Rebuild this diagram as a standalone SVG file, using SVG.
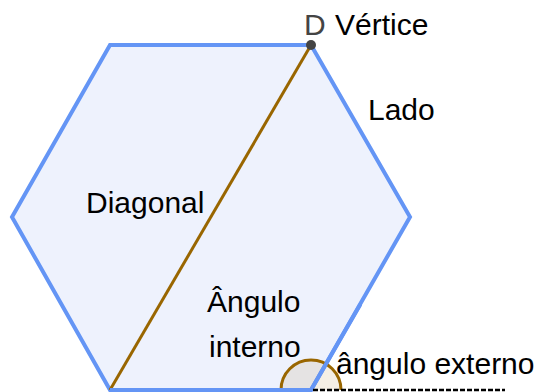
<svg xmlns="http://www.w3.org/2000/svg" width="547" height="392" viewBox="0 0 547 392">
<style>
  .lbl { font-family: "Liberation Sans", Arial, sans-serif; font-size: 30px; fill: #000; }
  .gray { fill: #444; }
</style>
<rect width="547" height="392" fill="#fff"/>
<g id="hexagon">
  <polygon points="110,45 311,45 410,217 311,390 110,390 12,217" fill="#eef2fd" stroke="#6495f5" stroke-width="4" stroke-linejoin="miter"/>
</g>
<g id="angle">
  <path d="M281,390 A30,30 0 0 1 341,390 Z" fill="#996600" fill-opacity="0.1" stroke="none"/>
  <path d="M281,390 A30,30 0 0 1 341,390" fill="none" stroke="#996600" stroke-width="3"/>
  <line x1="311" y1="390" x2="360" y2="305" stroke="#6495f5" stroke-width="4" stroke-linecap="round"/>
</g>
<g id="connectors">
  <line id="diagonal" x1="110" y1="390" x2="311" y2="45" stroke="#996600" stroke-width="3"/>
  <line id="extension" x1="313" y1="390" x2="505" y2="390" stroke="#000" stroke-width="2.5" stroke-dasharray="5,2"/>
  <line x1="110" y1="390" x2="311" y2="390" stroke="#6495f5" stroke-width="4"/>
</g>
<g id="vertexD">
  <circle cx="311" cy="45" r="5" fill="#444"/>
  <text class="lbl gray" x="304" y="35">D</text>
</g>
<g id="labels">
  <text class="lbl" x="335" y="35">Vértice</text>
  <text class="lbl" x="368" y="120">Lado</text>
  <text class="lbl" x="86" y="213">Diagonal</text>
  <text class="lbl" x="207" y="312">Ângulo</text>
  <text class="lbl" x="209" y="357">interno</text>
  <text class="lbl" x="336" y="374">ângulo externo</text>
</g>
</svg>
